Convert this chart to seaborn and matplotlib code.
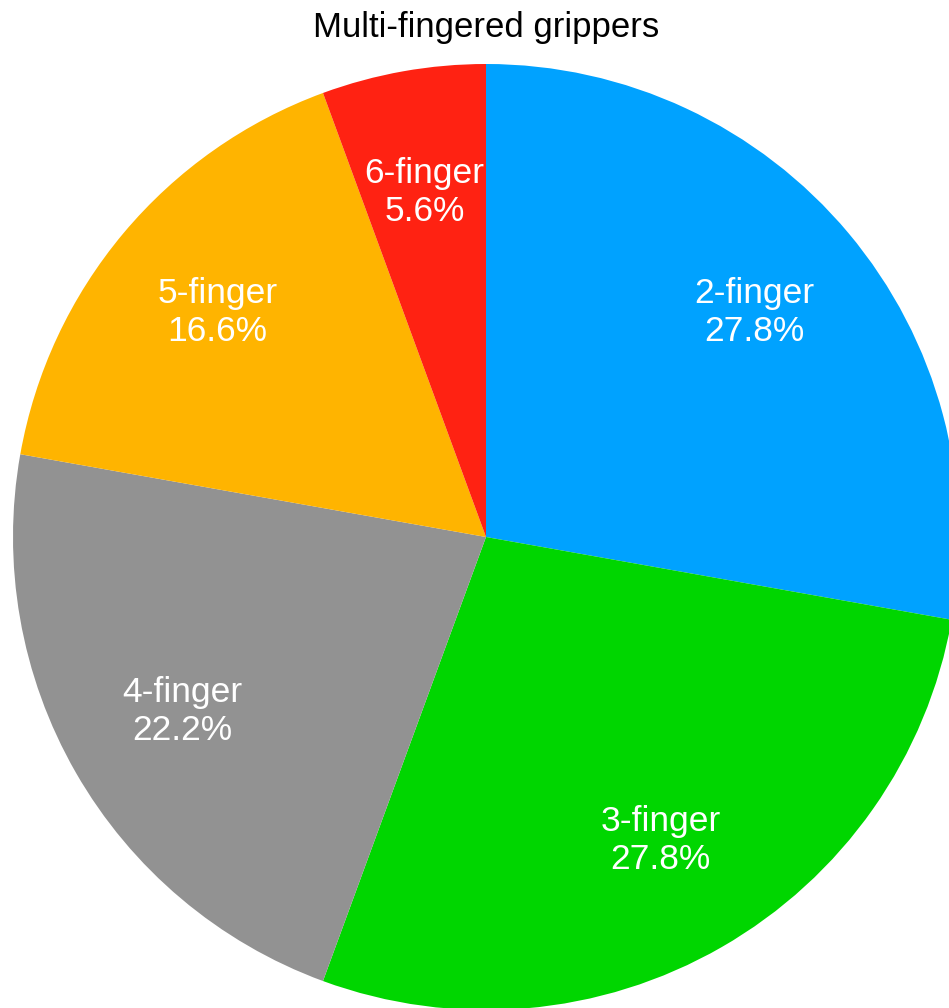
import matplotlib
matplotlib.use('Agg')
import matplotlib.pyplot as plt
import seaborn as sns

# data
grippers = ['2-finger', '3-finger', '4-finger', '5-finger', '6-finger']
shares = [27.8, 27.8, 22.2, 16.6, 5.6]
colors = ['#00A2FF', '#00D600', '#929292', '#FFB400', '#FF2212']

sns.set_theme(style='white')
plt.rcParams['font.family'] = ['Liberation Sans', 'DejaVu Sans']

fig = plt.figure(figsize=(9.49, 10.08), dpi=100)
ax = fig.add_axes([13 / 949, -2 / 1008, 946 / 949, 946 / 1008])

labels = [f'{g}\n{s:.1f}%' for g, s in zip(grippers, shares)]
wedges, texts = ax.pie(shares, labels=labels, colors=colors, startangle=90,
                       counterclock=False, labeldistance=0.74,
                       wedgeprops=dict(linewidth=0),
                       textprops=dict(color='white', fontsize=25.5, ha='center',
                                      va='center', linespacing=1.2))
for t in texts:
    t.set_horizontalalignment('center')
ax.set_xlim(-1, 1)
ax.set_ylim(-1, 1)

fig.text(486 / 949, 1 - 28 / 1008, 'Multi-fingered grippers', ha='center',
         va='center', fontsize=25, color='black')

fig.savefig('out.png', dpi=100)
